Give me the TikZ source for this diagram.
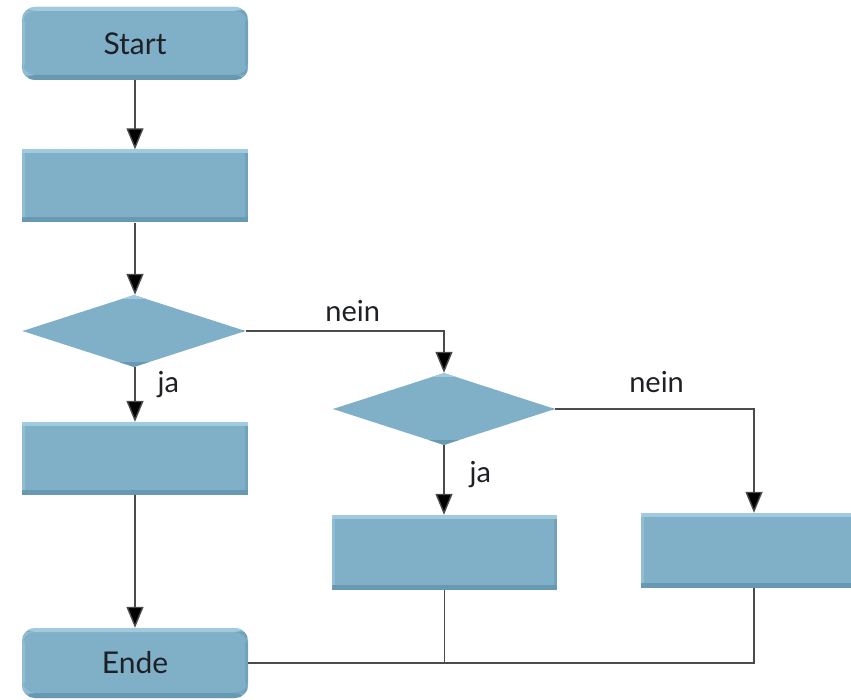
\documentclass[tikz,border=0pt]{standalone}
\usepackage{fontspec}
\setmainfont{Lato}
\usetikzlibrary{shapes.geometric,arrows.meta}
\definecolor{boxfill}{RGB}{127,176,200}
\definecolor{boxlight}{RGB}{160,202,222}
\definecolor{boxdark}{RGB}{104,153,178}
\definecolor{linecol}{RGB}{75,75,75}
\definecolor{txtcol}{RGB}{30,32,38}
\tikzset{
  bevel/.style={fill=boxfill, draw=none,
    path picture={
      \fill[boxlight] (path picture bounding box.north west) rectangle ([yshift=-4pt]path picture bounding box.north east);
      \fill[boxdark] (path picture bounding box.south west) rectangle ([yshift=5pt]path picture bounding box.south east);
      \fill[boxdark!60!boxfill] ([yshift=-4pt]path picture bounding box.north east) rectangle ([xshift=-3pt,yshift=5pt]path picture bounding box.south east);
      \fill[boxlight!50!boxfill] ([yshift=-4pt]path picture bounding box.north west) rectangle ([xshift=3pt,yshift=5pt]path picture bounding box.south west);
    }},
  procbox/.style={bevel, rectangle, inner sep=0pt, minimum width=226pt, minimum height=73pt},
  termbox/.style={procbox, rounded corners=13pt, text=txtcol, font=\fontsize{30}{34}\selectfont},
  decbox/.style={bevel, diamond, inner sep=0pt, minimum width=223pt, minimum height=72pt},
  conn/.style={draw=linecol, line width=1.4pt},
  arr/.style={conn, -{Triangle[width=17pt,length=21pt,fill=black]}},
  lbl/.style={text=txtcol, font=\fontsize{29}{33}\selectfont, inner sep=0pt}
}
\begin{document}
\begin{tikzpicture}[x=1pt,y=1pt]
\useasboundingbox (0,0) rectangle (851,699);
\node[termbox] (start) at (135,655.5) {Start};
\node[procbox] (p1) at (135,513) {};
\node[decbox] (d1) at (134,368) {};
\node[procbox] (p2) at (135,240.5) {};
\node[termbox, minimum height=70pt] (ende) at (135,36) {Ende};
\node[decbox, minimum width=222pt] (d2) at (444,290) {};
\node[procbox, minimum width=225pt, minimum height=75pt] (p3) at (444.5,146.5) {};
\node[procbox, minimum height=75pt] (p4) at (754,148.5) {};

\draw[arr] (start.south) -- (p1.north);
\draw[arr] (p1.south) -- (p1.south |- d1.north);
\draw[arr] (d1.east) -| node[lbl, anchor=base, pos=0.27, yshift=9pt] {nein} (d2.north);
\draw[arr] (d1.south -| p2.north) -- node[lbl, anchor=base west, pos=0.47, xshift=22pt] {ja} (p2.north);
\draw[arr] (d2.east) -| node[lbl, anchor=base, pos=0.255, yshift=16pt] {nein} (p4.north);
\draw[arr] (d2.south) -- node[lbl, anchor=base west, pos=0.54, xshift=25pt] {ja} (d2.south |- p3.north);
\draw[arr] (p2.south) -- (ende.north);
\draw[conn] (ende.east) -| (p4.south);
\coordinate (j3) at (p3.south |- ende.east);
\draw[conn] (p3.south) -- (j3);
\end{tikzpicture}
\end{document}
